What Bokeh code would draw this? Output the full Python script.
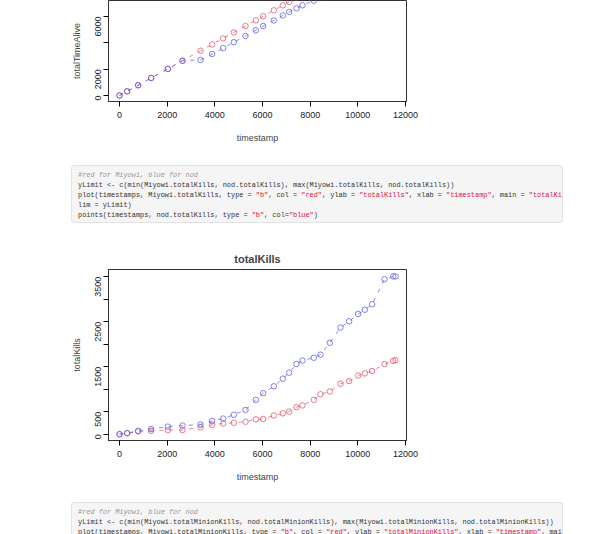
import math
from bokeh.plotting import figure
from bokeh.models import FixedTicker, Div, Spacer
from bokeh.layouts import column
from bokeh.embed import file_html
from bokeh.resources import INLINE

# timestamps shared by both players
timestamps = [0, 322, 783, 1329, 2028, 2643, 3399, 3888, 4350, 4797, 5287, 5720, 6028,
              6476, 6853, 7119, 7427, 7678, 8154, 8434, 8825, 9273, 9636, 10014, 10293,
              10601, 11119, 11483, 11580]

# totalTimeAlive (only the visible part of the upper chart)
alive_ts = timestamps[:21]
miyowi_alive = [0, 320, 780, 1330, 2020, 2640, 3400, 3880, 4340, 4790, 5280, 5710, 6020,
                6470, 6850, 7110, 7420, 7670, 8150, 8430, 8820]
nod_alive = [0, 320, 780, 1330, 2020, 2640, 2700, 3150, 3600, 4050, 4520, 4950, 5280,
             5700, 6080, 6350, 6620, 6850, 7200, 7450, 7800]

# totalKills
miyowi_kills = [0, 23, 62, 77, 93, 93, 155, 209, 240, 255, 278, 332, 340, 417, 464, 502,
                603, 641, 765, 889, 951, 1121, 1182, 1306, 1352, 1406, 1561, 1631, 1646]
nod_kills = [0, 23, 77, 116, 170, 193, 216, 294, 348, 433, 541, 765, 912, 1066, 1236, 1368,
             1561, 1638, 1700, 1770, 2032, 2372, 2511, 2674, 2767, 2890, 3447, 3508, 3508]

FONT = "Liberation Sans"
RED = "#e0506a"
BLUE = "#5a5ae6"


def rplot(height, y_start, y_end, yticks, ylabels, ylab, title=None, top=0):
    p = figure(width=428, height=height, x_range=(-461, 12042), y_range=(y_start, y_end),
               output_backend="svg", toolbar_location=None, title=title,
               min_border_left=108, min_border_right=22, min_border_top=top,
               min_border_bottom=47)
    p.grid.visible = False
    p.outline_line_color = "#333333"
    p.background_fill_color = "white"
    for ax in p.axis:
        ax.minor_tick_line_color = None
        ax.major_label_text_font = FONT
        ax.major_label_text_font_size = "9px"
        ax.axis_label_text_font = FONT
        ax.axis_label_text_font_size = "9px"
        ax.axis_label_text_font_style = "normal"
        ax.major_tick_out = 5
        ax.major_tick_in = 0
        ax.axis_line_color = "#333333"
        ax.major_label_text_color = "#222222"
    p.xaxis.ticker = FixedTicker(ticks=[0, 2000, 4000, 6000, 8000, 10000, 12000])
    p.xaxis.axis_label = "timestamp"
    p.xaxis.axis_label_standoff = 12
    p.yaxis.ticker = FixedTicker(ticks=yticks)
    p.yaxis.major_label_overrides = ylabels
    p.yaxis.major_label_orientation = math.pi / 2
    p.yaxis.axis_label = ylab
    p.yaxis.axis_label_standoff = 8
    if title:
        p.title.align = "center"
        p.title.text_font = FONT
        p.title.text_font_size = "11px"
        p.title.offset = 0
    return p


def series(p, xs, ys, color):
    p.line(xs, ys, line_color=color, line_alpha=0.7, line_width=1, line_dash="4 6")
    p.scatter(xs, ys, marker="circle", size=5.5, fill_color=None, line_color=color,
              line_alpha=0.75, line_width=1)


p1 = rplot(148, -456, 7215, [0, 2000, 4000, 6000], {4000: ""}, "totalTimeAlive")
series(p1, alive_ts, miyowi_alive, RED)
series(p1, alive_ts, nod_alive, BLUE)

p2 = rplot(253, -139, 3662, [0, 500, 1000, 1500, 2000, 2500, 3000, 3500],
           {1000: "", 2000: "", 3000: ""}, "totalKills", title="totalKills", top=35)
series(p2, timestamps, miyowi_kills, RED)
series(p2, timestamps, nod_kills, BLUE)

BOX = ("margin-left:66px;width:478px;background:#f5f5f5;border:1px solid #e3e3e3;"
       "border-radius:3px;padding:4px 6px;font-family:'Liberation Mono',monospace;"
       "font-size:6.9px;line-height:10px;color:#333;white-space:pre;overflow:hidden;"
       "box-sizing:content-box;")
C = "<span style='color:#999;font-style:italic'>"
S = "<span style='color:#d14'>"
E = "</span>"

code1 = (f"<div style=\"{BOX}height:48px\">{C}#red for Miyowi, blue for nod{E}\n"
         "yLimit &lt;- c(min(Miyowi.totalKills, nod.totalKills), max(Miyowi.totalKills, nod.totalKills))\n"
         f"plot(timestamps, Miyowi.totalKills, type = {S}\"b\"{E}, col = {S}\"red\"{E}, ylab = {S}\"totalKills\"{E}, xlab = {S}\"timestamp\"{E}, main = {S}\"totalKills\"{E}, y\n"
         "lim = yLimit)\n"
         f"points(timestamps, nod.totalKills, type = {S}\"b\"{E}, col={S}\"blue\"{E})</div>")
code2 = (f"<div style=\"{BOX}height:40px;border-bottom:none\">{C}#red for Miyowi, blue for nod{E}\n"
         "yLimit &lt;- c(min(Miyowi.totalMinionKills, nod.totalMinionKills), max(Miyowi.totalMinionKills, nod.totalMinionKills))\n"
         f"plot(timestamps, Miyowi.totalMinionKills, type = {S}\"b\"{E}, col = {S}\"red\"{E}, ylab = {S}\"totalMinionKills\"{E}, xlab = {S}\"timestamp\"{E}, main = {S}\"to\n"
         f"talMinionKills\"{E}, ylim = yLimit)</div>")

d1 = Div(text=code1, width=590, height=60)
d2 = Div(text=code2, width=590, height=44)

layout = column(p1, Spacer(height=12), d1, Spacer(height=4), p2, Spacer(height=10), d2,
                spacing=0)

open("out.html", "w").write(file_html(layout, INLINE))
